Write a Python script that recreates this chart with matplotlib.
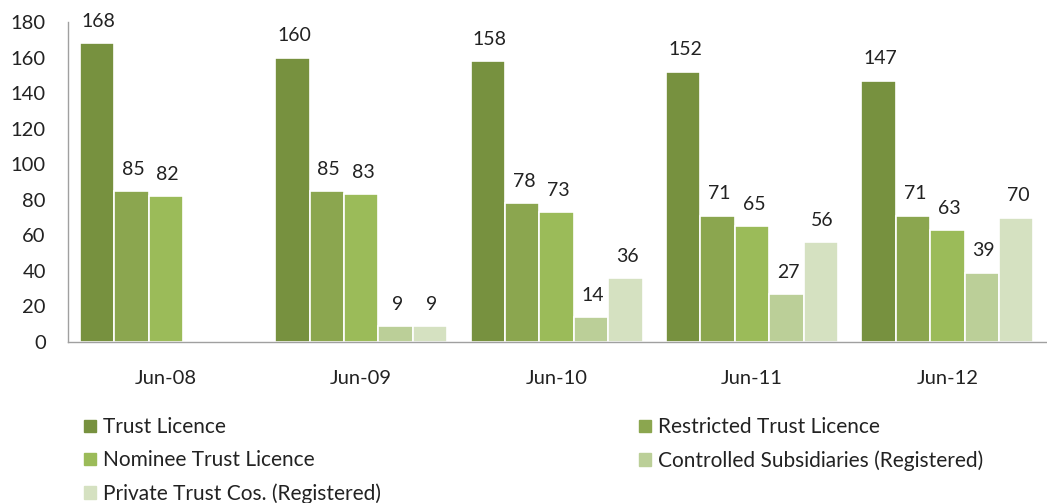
import matplotlib
matplotlib.use("Agg")
import matplotlib.pyplot as plt
import numpy as np

categories = ["Jun-08", "Jun-09", "Jun-10", "Jun-11", "Jun-12"]
series_names = ["Trust Licence", "Restricted Trust Licence", "Nominee Trust Licence",
                "Controlled Subsidiaries (Registered)", "Private Trust Cos. (Registered)"]
trust = [168, 160, 158, 152, 147]
restricted = [85, 85, 78, 71, 71]
nominee = [82, 83, 73, 65, 63]
controlled = [None, 9, 14, 27, 39]
private = [None, 9, 36, 56, 70]
yticks = [0, 20, 40, 60, 80, 100, 120, 140, 160, 180]

series = [trust, restricted, nominee, controlled, private]
colors = ["#77913F", "#8BA64F", "#9BBB59", "#BBCF98", "#D5E1C1"]

plt.rcParams['font.family'] = ['Lato', 'DejaVu Sans']

fig = plt.figure(figsize=(10.47, 5.03), dpi=100)
ax = fig.add_axes([68/1047, 1 - 342/503, (1047 - 68)/1047, 320/503])

x = np.arange(len(categories))
w = 0.176
for i, (vals, col) in enumerate(zip(series, colors)):
    v = np.array([np.nan if a is None else a for a in vals], dtype=float)
    pos = x + (i - 2) * w
    ax.bar(pos, np.nan_to_num(v), width=w, color=col, edgecolor="white", linewidth=1.2, zorder=2)
    for p, val in zip(pos, v):
        if not np.isnan(val):
            ax.text(p + 0.01, val + 7.5, f"{int(val)}", ha="center", va="bottom",
                    fontsize=14, color="#222222", clip_on=False)

ax.set_xlim(-0.5, len(categories) - 0.5 + 0.01)
ax.set_ylim(0, 180)
ax.set_yticks(yticks)
ax.set_xticks(x)
ax.set_xticklabels(categories)
ax.tick_params(axis="both", length=0, labelsize=14.5, colors="#222222")
ax.tick_params(axis="x", pad=20)
ax.tick_params(axis="y", pad=16)
for s in ["top", "right"]:
    ax.spines[s].set_visible(False)
for s in ["left", "bottom"]:
    ax.spines[s].set_color("#A0A0A0")
    ax.spines[s].set_linewidth(1.0)

order = [0, 2, 4, 1, 3]
handles = [plt.Rectangle((0, 0), 1, 1, color=colors[k]) for k in order]
labels = [series_names[k] for k in order]
leg = fig.legend(handles, labels, loc="upper left", bbox_to_anchor=(74/1047, 1 - 407/503),
                 ncol=2, frameon=False, fontsize=15, handlelength=0.55, handleheight=0.55,
                 handletextpad=0.35, columnspacing=12.4, labelspacing=0.62, borderpad=0)
for t in leg.get_texts():
    t.set_color("#222222")

fig.savefig("out.png", dpi=100)
